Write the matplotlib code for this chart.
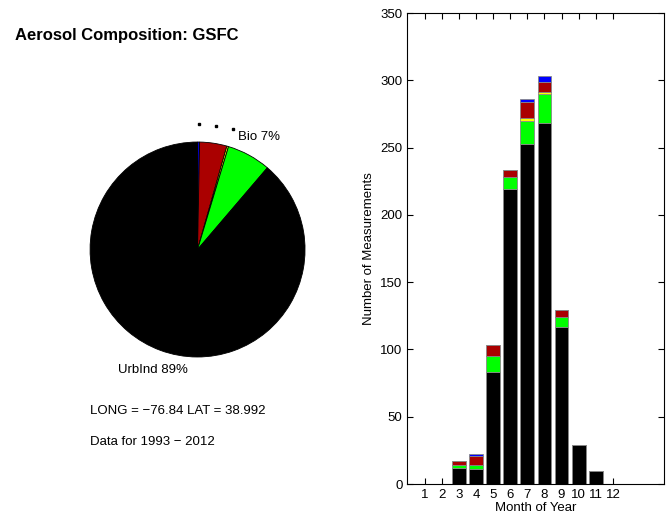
import numpy as np
import matplotlib
matplotlib.use('Agg')
import matplotlib.pyplot as plt

plt.rcParams['font.family'] = ['Liberation Sans', 'DejaVu Sans']

# monthly counts per aerosol type
months = np.arange(1, 13)
urbind = [0, 0, 12, 11, 83, 219, 253, 268, 117, 29, 10, 0]
bio    = [0, 0, 2, 3, 12, 9, 17, 22, 7, 0, 0, 0]
dust   = [0, 0, 0, 0, 0, 0, 2, 1, 0, 0, 0, 0]
mixed  = [0, 0, 3, 7, 8, 5, 12, 8, 5, 0, 0, 0]
marine = [0, 0, 0, 1, 0, 0.5, 2, 4, 0, 0, 0, 0]

# pie shares (percent), clockwise from top
pie_names = ['Marine', 'Mixed', 'Dust', 'Bio', 'UrbInd']
pie_pct = [0.3, 4.1, 0.25, 6.6, 88.75]
pie_labels = ['', '', '', 'Bio 7%', 'UrbInd 89%']
pie_cols = ['#0000cc', '#aa0000', '#ffff00', '#00ff00', 'black']

fig = plt.figure(figsize=(6.69, 5.21), dpi=100)

# ---- pie
ax1 = fig.add_axes([0.0543, 0.2116, 0.482, 0.619])
wedges, texts = ax1.pie(pie_pct, colors=pie_cols, startangle=90, counterclock=False,
                        labels=pie_labels, labeldistance=1.19,
                        wedgeprops=dict(edgecolor='black', linewidth=0.6),
                        textprops=dict(fontsize=9.5))
for t in texts:
    t.set_horizontalalignment('center')
ax1.set_xlim(-1.5, 1.5)
ax1.set_ylim(-1.5, 1.5)
ax1.axis('off')

# dots for the tiny slices
cum = np.cumsum(pie_pct) - np.array(pie_pct) / 2.0
ang = np.deg2rad(90 - cum / 100.0 * 360)
for i in range(3):
    ax1.plot(1.165 * np.cos(ang[i]), 1.165 * np.sin(ang[i]), 's', color='black', ms=1.6)

fig.text(0.022, 0.932, 'Aerosol Composition: GSFC', fontsize=12, fontweight='bold', va='center')
fig.text(0.134, 0.212, 'LONG = \u221276.84 LAT = 38.992', fontsize=9.5, va='center')
fig.text(0.134, 0.151, 'Data for 1993 \u2212 2012', fontsize=9.5, va='center')

# ---- stacked bars
ax2 = fig.add_axes([0.609, 0.071, 0.384, 0.904])
b = np.zeros(12)
for vals, c in [(urbind, 'black'), (bio, '#00ff00'), (dust, '#ffff00'),
                (mixed, '#aa0000'), (marine, '#0000ff')]:
    vals = np.array(vals, dtype=float)
    ax2.bar(months, vals, 0.8, bottom=b, color=c, edgecolor='#888888', linewidth=0.6)
    b += vals
ax2.bar(months, np.zeros(12), 0.8, color='black', edgecolor='black', linewidth=0.6)
ax2.set_xlim(0, 15)
ax2.set_ylim(0, 350)
ax2.set_xticks(months)
ax2.set_yticks(np.arange(0, 351, 50))
ax2.tick_params(direction='in', top=True, right=True, labelsize=9.5, length=4)
ax2.set_xlabel('Month of Year', fontsize=9.5, labelpad=1)
ax2.set_ylabel('Number of Measurements', fontsize=9.5)

fig.savefig('out.png', dpi=100)
